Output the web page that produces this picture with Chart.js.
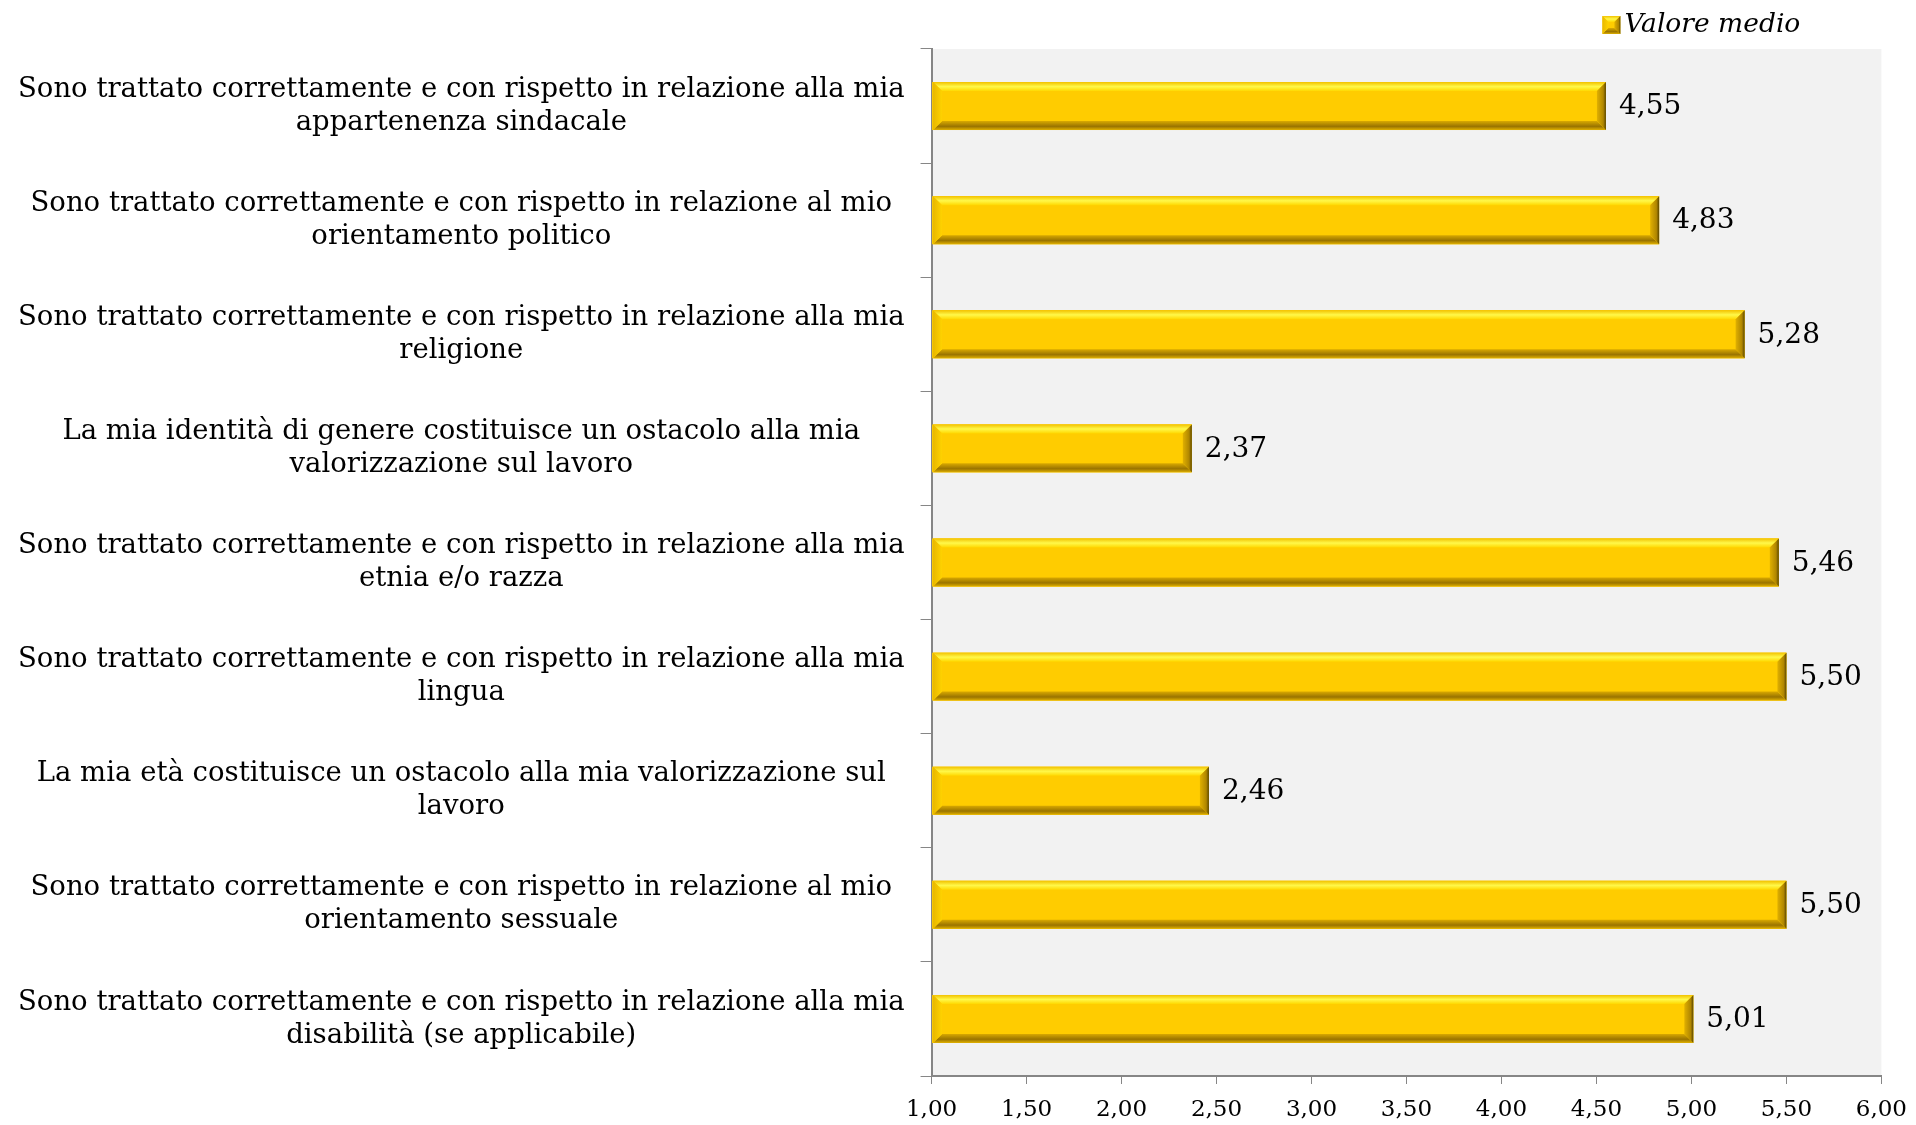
<!DOCTYPE html>
<html>
<head>
<meta charset="utf-8">
<script src="https://cdn.jsdelivr.net/npm/chart.js@4/dist/chart.umd.min.js"></script>
<style>
  html, body { margin: 0; padding: 0; background: #fff; }
  #wrap { width: 1916px; height: 1125px; }
</style>
</head>
<body>
<div id="wrap"><canvas id="chart"></canvas></div>
<script>
// Data
const categories = [
    ["Sono trattato correttamente e con rispetto in relazione alla mia", "appartenenza sindacale"],
    ["Sono trattato correttamente e con rispetto in relazione al mio", "orientamento politico"],
    ["Sono trattato correttamente e con rispetto in relazione alla mia", "religione"],
    ["La mia identità di genere costituisce un ostacolo alla mia", "valorizzazione sul lavoro"],
    ["Sono trattato correttamente e con rispetto in relazione alla mia", "etnia e/o razza"],
    ["Sono trattato correttamente e con rispetto in relazione alla mia", "lingua"],
    ["La mia età costituisce un ostacolo alla mia valorizzazione sul", "lavoro"],
    ["Sono trattato correttamente e con rispetto in relazione al mio", "orientamento sessuale"],
    ["Sono trattato correttamente e con rispetto in relazione alla mia", "disabilità (se applicabile)"]
];
const meanValues = [4.55, 4.83, 5.28, 2.37, 5.46, 5.50, 2.46, 5.50, 5.01];
const seriesName = "Valore medio";
const axisMin = 1;
const axisMax = 6;
const axisStep = 0.5;

const FONT = "'DejaVu Serif', 'Liberation Serif', serif";
const fmt = v => v.toFixed(2).replace(".", ",");

// Draws an Excel-like bevelled gold rectangle
function drawBevel(ctx, left, top, right, bottom, b) {
    ctx.save();
    ctx.fillStyle = "#ffcc00";
    ctx.fillRect(left, top, right - left, bottom - top);

    const poly = (pts, fill) => {
        ctx.beginPath();
        ctx.moveTo(pts[0][0], pts[0][1]);
        for (let i = 1; i < pts.length; i++) ctx.lineTo(pts[i][0], pts[i][1]);
        ctx.closePath();
        ctx.fillStyle = fill;
        ctx.fill();
    };

    // top edge - light
    let g = ctx.createLinearGradient(0, top, 0, top + b);
    g.addColorStop(0, "#f2c200");
    g.addColorStop(0.5, "#fff84a");
    g.addColorStop(1, "#ffd800");
    poly([[left, top], [right, top], [right - b, top + b], [left + b, top + b]], g);

    // bottom edge - dark
    g = ctx.createLinearGradient(0, bottom - b, 0, bottom);
    g.addColorStop(0, "#d9a900");
    g.addColorStop(0.6, "#9a7400");
    g.addColorStop(1, "#e0b000");
    poly([[left, bottom], [right, bottom], [right - b, bottom - b], [left + b, bottom - b]], g);

    // left edge
    g = ctx.createLinearGradient(left, 0, left + b, 0);
    g.addColorStop(0, "#e8b800");
    g.addColorStop(1, "#ffd200");
    poly([[left, top], [left + b, top + b], [left + b, bottom - b], [left, bottom]], g);

    // right edge - darker
    g = ctx.createLinearGradient(right - b, 0, right, 0);
    g.addColorStop(0, "#e0b000");
    g.addColorStop(0.7, "#b08600");
    g.addColorStop(1, "#5a4600");
    poly([[right, top], [right - b, top + b], [right - b, bottom - b], [right, bottom]], g);

    ctx.restore();
}

// Plot area background
const plotBackground = {
    id: "plotBackground",
    beforeDraw(chart) {
        const { ctx, chartArea } = chart;
        ctx.save();
        ctx.fillStyle = "#f2f2f2";
        ctx.fillRect(chartArea.left, chartArea.top, chartArea.right - chartArea.left, chartArea.bottom - chartArea.top);
        ctx.restore();
    }
};

// Bevel on each bar + value labels
const bevelBars = {
    id: "bevelBars",
    afterDatasetsDraw(chart) {
        const ctx = chart.ctx;
        const meta = chart.getDatasetMeta(0);
        meta.data.forEach((bar, i) => {
            const top = bar.y - bar.height / 2;
            const bottom = bar.y + bar.height / 2;
            drawBevel(ctx, bar.base + 1, top, bar.x, bottom, 9);

            ctx.save();
            ctx.fillStyle = "#000";
            ctx.font = "28px " + FONT;
            ctx.textAlign = "left";
            ctx.textBaseline = "middle";
            ctx.fillText(fmt(meanValues[i]), bar.x + 13, bar.y + 1);
            ctx.restore();
        });
    }
};

// Legend in the top right corner
const legendBox = {
    id: "legendBox",
    afterDraw(chart) {
        const { ctx, chartArea } = chart;
        const x = chartArea.right - 279;
        const y = 25;
        drawBevel(ctx, x, y - 9, x + 18, y + 9, 6);
        ctx.save();
        ctx.fillStyle = "#000";
        ctx.font = "italic 26.5px " + FONT;
        ctx.textAlign = "left";
        ctx.textBaseline = "middle";
        ctx.fillText(chart.data.datasets[0].label, x + 22, y);
        ctx.restore();
    }
};

const ctx = document.getElementById("chart").getContext("2d");
new Chart(ctx, {
    type: "bar",
    data: {
        labels: categories,
        datasets: [{
            label: seriesName,
            data: meanValues,
            base: axisMin,
            backgroundColor: "#ffcc00",
            borderWidth: 0,
            barPercentage: 0.42,
            categoryPercentage: 1.0
        }]
    },
    options: {
        indexAxis: "y",
        responsive: true,
        maintainAspectRatio: false,
        animation: false,
        devicePixelRatio: 1,
        layout: {
            padding: { top: 49, left: 2, right: 4, bottom: -12 }
        },
        plugins: {
            legend: { display: false },
            tooltip: { enabled: false }
        },
        scales: {
            y: {
                grid: {
                    drawOnChartArea: false,
                    drawTicks: true,
                    tickLength: 11,
                    color: "#868686",
                    offset: true
                },
                border: { color: "#868686", width: 2 },
                ticks: {
                    crossAlign: "center",
                    padding: 16,
                    color: "#000",
                    font: { family: FONT, size: 27.5, lineHeight: 1.2 }
                }
            },
            x: {
                min: axisMin,
                max: axisMax,
                grid: {
                    drawOnChartArea: false,
                    drawTicks: true,
                    tickLength: 8,
                    color: "#868686"
                },
                border: { color: "#868686", width: 2 },
                ticks: {
                    stepSize: axisStep,
                    padding: 9,
                    color: "#000",
                    font: { family: FONT, size: 23, lineHeight: 1.5 },
                    callback: v => fmt(v)
                }
            }
        }
    },
    plugins: [plotBackground, bevelBars, legendBox]
});
</script>
</body>
</html>
